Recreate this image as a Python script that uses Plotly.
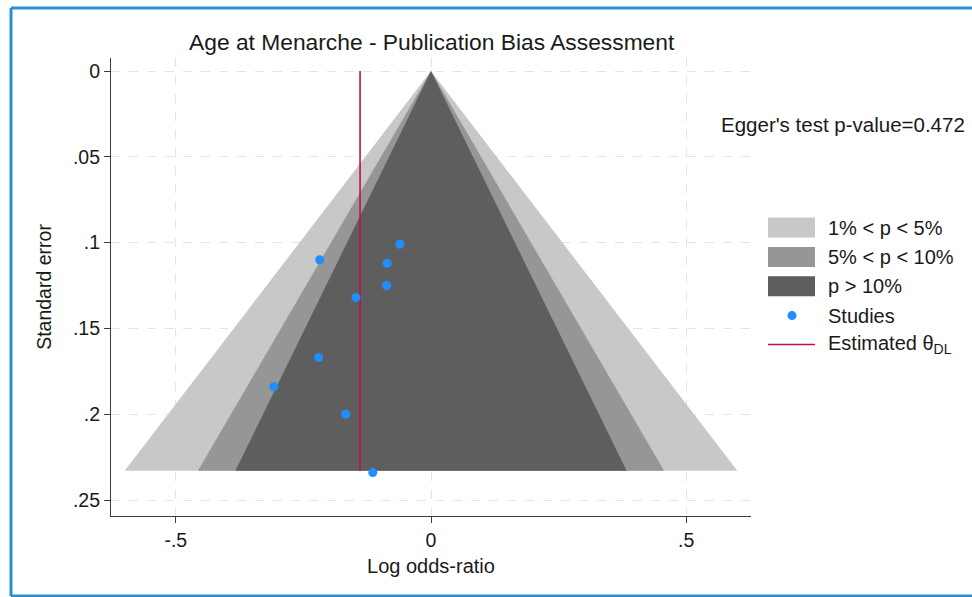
import plotly.graph_objects as go

# Study estimates
log_or = [-0.061, -0.218, -0.086, -0.087, -0.147, -0.220, -0.308, -0.167, -0.114]
std_err = [0.101, 0.110, 0.112, 0.125, 0.132, 0.167, 0.184, 0.200, 0.234]

theta_dl = -0.139          # pooled DerSimonian-Laird estimate
egger_p = 0.472
se_max = 0.233             # depth of the contour funnel

# Significance contours (two-sided) and their fills
contour_labels = ["1% < p < 5%", "5% < p < 10%", "p > 10%"]
contour_z = [2.576, 1.960, 1.645]
contour_colors = ["#c8c8c8", "#969696", "#5e5e5e"]

y_tickvals = [0, 0.05, 0.1, 0.15, 0.2, 0.25]
y_ticktext = ["0", ".05", ".1", ".15", ".2", ".25"]
x_tickvals = [-0.5, 0, 0.5]
x_ticktext = ["-.5", "0", ".5"]

FONT = "Liberation Sans, Arial, sans-serif"
TXT = "#1a1a1a"
fig = go.Figure()

for z, col in zip(contour_z, contour_colors):
    fig.add_trace(go.Scatter(
        x=[0, z * se_max, -z * se_max, 0],
        y=[0, se_max, se_max, 0],
        fill="toself", fillcolor=col, mode="lines",
        line=dict(width=0, color=col), hoverinfo="skip", showlegend=False))

fig.add_trace(go.Scatter(
    x=[theta_dl, theta_dl], y=[0, se_max], mode="lines",
    line=dict(color="#c0123c", width=1.6), showlegend=False))

fig.add_trace(go.Scatter(
    x=log_or, y=std_err, mode="markers",
    marker=dict(color="#1e8fff", size=9), showlegend=False))

# plot-area geometry in pixels, used to place legend and frame
L, R, T, B = 111, 751, 58, 516
W, H = R - L, B - T
def px(x):
    return (x - L) / W
def py(y):
    return (B - y) / H

shapes = []
# outer blue frame
frame_col = "#2b8fd3"
shapes.append(dict(type="line", xref="paper", yref="paper", x0=px(11), x1=px(11),
                   y0=py(8), y1=py(596), line=dict(color=frame_col, width=3)))
shapes.append(dict(type="line", xref="paper", yref="paper", x0=px(11), x1=px(990),
                   y0=py(8), y1=py(8), line=dict(color=frame_col, width=3)))
shapes.append(dict(type="line", xref="paper", yref="paper", x0=px(11), x1=px(990),
                   y0=py(596), y1=py(596), line=dict(color=frame_col, width=3)))

annotations = []
legend_y = [227.5, 257, 286.3, 315.6, 344.5]
for lab, col, yc in zip(contour_labels, contour_colors, legend_y[:3]):
    shapes.append(dict(type="rect", xref="paper", yref="paper",
                       x0=px(768), x1=px(815), y0=py(yc - 10), y1=py(yc + 10),
                       fillcolor=col, line=dict(width=0)))
shapes.append(dict(type="circle", xref="paper", yref="paper",
                   x0=px(787.5), x1=px(796.5), y0=py(legend_y[3] - 4.5), y1=py(legend_y[3] + 4.5),
                   fillcolor="#1e8fff", line=dict(width=0)))
shapes.append(dict(type="line", xref="paper", yref="paper",
                   x0=px(768), x1=px(815), y0=py(legend_y[4]), y1=py(legend_y[4]),
                   line=dict(color="#c0123c", width=1.6)))
legend_text = contour_labels + ["Studies", "Estimated θ<sub>DL</sub>"]
for txt, yc in zip(legend_text, legend_y):
    annotations.append(dict(xref="paper", yref="paper", x=px(826), y=py(yc),
                            xanchor="left", yanchor="middle", text=txt, showarrow=False,
                            font=dict(family=FONT, size=20, color=TXT)))

annotations.append(dict(xref="paper", yref="paper", x=px(967), y=py(124),
                        xanchor="right", yanchor="middle",
                        text=f"Egger's test p-value={egger_p}", showarrow=False,
                        font=dict(family=FONT, size=20.5, color=TXT)))

annotations.append(dict(xref="paper", yref="paper", x=px(432), y=py(42),
                        xanchor="center", yanchor="middle",
                        text="Age at Menarche - Publication Bias Assessment", showarrow=False,
                        font=dict(family=FONT, size=22.8, color=TXT)))

fig.update_layout(
    width=972, height=597,
    margin=dict(l=L, r=972 - R, t=T, b=597 - B),
    paper_bgcolor="white", plot_bgcolor="white",
    font=dict(family=FONT, size=19.5, color=TXT),
    shapes=shapes, annotations=annotations,
    showlegend=False,
)
fig.update_xaxes(
    range=[-0.627, 0.627], tickvals=x_tickvals, ticktext=x_ticktext,
    showline=True, linecolor="#3c3c3c", linewidth=1.2,
    ticks="outside", ticklen=6, tickcolor="#3c3c3c",
    showgrid=True, gridcolor="#e4e4e4", griddash="dash", gridwidth=1,
    zeroline=False, title=dict(text="Log odds-ratio", standoff=9, font=dict(size=20)),
    tickfont=dict(size=19.5), ticklabelstandoff=0,
)
fig.update_yaxes(
    range=[0.2593, -0.0076], tickvals=y_tickvals, ticktext=y_ticktext,
    showline=True, linecolor="#3c3c3c", linewidth=1.2,
    ticks="outside", ticklen=6, tickcolor="#3c3c3c",
    showgrid=True, gridcolor="#e4e4e4", griddash="dash", gridwidth=1,
    zeroline=False, title=dict(text="Standard error", standoff=16, font=dict(size=19.5)),
    tickfont=dict(size=19.5),
)

fig.write_html("out.html")
